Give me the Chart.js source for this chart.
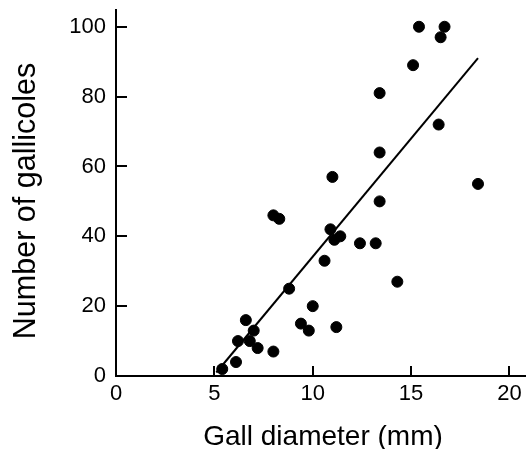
<!DOCTYPE html>
<html>
<head>
<meta charset="utf-8">
<script src="https://cdn.jsdelivr.net/npm/chart.js@4"></script>
<style>
  body { margin: 0; background: #fff; }
  #wrap { width: 526px; height: 449px; }
</style>
</head>
<body>
<div id="wrap"><canvas id="chart"></canvas></div>
<script>
// gall diameter (mm) vs number of gallicoles
const diameter = [5.4, 6.1, 6.2, 6.6, 6.8, 7.0, 7.2, 8.0, 8.0, 8.3, 8.8, 9.4, 9.8, 10.0, 10.6, 10.9,
                  11.0, 11.1, 11.2, 11.4, 12.4, 13.2, 13.4, 13.4, 13.4, 14.3, 15.1, 15.4, 16.4, 16.5, 16.7, 18.4];
const gallicoles = [2, 4, 10, 16, 10, 13, 8, 7, 46, 45, 25, 15, 13, 20, 33, 42,
                    57, 39, 14, 40, 38, 38, 50, 64, 81, 27, 89, 100, 72, 97, 100, 55];

// fitted line end points
const fitX = [5.1, 18.4];
const fitY = [1, 91];

const xTicks = [0, 5, 10, 15, 20];
const yTicks = [0, 20, 40, 60, 80, 100];

const xTitle = 'Gall diameter (mm)';
const yTitle = 'Number of gallicoles';

const points = diameter.map((d, i) => ({ x: d, y: gallicoles[i] }));
const fitLine = fitX.map((d, i) => ({ x: d, y: fitY[i] }));

const font = "'Liberation Sans', Arial, sans-serif";

// ticks pointing into the plot, plus the axis titles
const axisDecor = {
    id: 'axisDecor',
    afterDraw(chart) {
        const ctx = chart.ctx;
        const { x, y } = chart.scales;
        ctx.save();
        ctx.strokeStyle = '#000';
        ctx.lineWidth = 2;
        ctx.beginPath();
        xTicks.forEach(v => {
            const px = Math.round(x.getPixelForValue(v));
            ctx.moveTo(px, y.bottom);
            ctx.lineTo(px, y.bottom - 10);
        });
        yTicks.forEach(v => {
            const py = Math.round(y.getPixelForValue(v));
            ctx.moveTo(x.left, py);
            ctx.lineTo(x.left + 11, py);
        });
        ctx.stroke();

        ctx.fillStyle = '#000';
        ctx.textAlign = 'center';
        ctx.textBaseline = 'alphabetic';
        ctx.font = '28px ' + font;
        ctx.fillText(xTitle, 323, 445);

        ctx.translate(35, 201);
        ctx.rotate(-Math.PI / 2);
        ctx.font = '30.5px ' + font;
        ctx.fillText(yTitle, 0, 0);
        ctx.restore();
    }
};

new Chart(document.getElementById('chart'), {
    type: 'scatter',
    data: {
        datasets: [{
            data: points,
            backgroundColor: '#000',
            borderColor: '#000',
            pointRadius: 5.5,
            pointHoverRadius: 5.5
        }, {
            type: 'line',
            data: fitLine,
            borderColor: '#000',
            borderWidth: 2,
            pointRadius: 0,
            fill: false
        }]
    },
    options: {
        responsive: true,
        maintainAspectRatio: false,
        animation: false,
        layout: { autoPadding: false, padding: { left: 0, right: 0, top: 10, bottom: 0 } },
        plugins: { legend: { display: false }, tooltip: { enabled: false } },
        scales: {
            x: {
                type: 'linear',
                min: 0,
                max: 20.84,
                grid: { display: false, drawTicks: false },
                border: { color: '#000', width: 2 },
                ticks: {
                    stepSize: 5,
                    includeBounds: false,
                    padding: 5,
                    color: '#000',
                    font: { family: font, size: 22 }
                },
                afterFit: s => {
                    s.height = 73;
                    s.paddingLeft = 0;
                    s.paddingRight = 0;
                }
            },
            y: {
                min: 0,
                max: 104.8,
                grid: { display: false, drawTicks: false },
                border: { color: '#000', width: 2 },
                ticks: {
                    stepSize: 20,
                    includeBounds: false,
                    padding: 10,
                    color: '#000',
                    font: { family: font, size: 22 }
                },
                afterFit: s => {
                    s.width = 116;
                    s.paddingTop = 0;
                    s.paddingBottom = 0;
                }
            }
        }
    },
    plugins: [axisDecor]
});
</script>
</body>
</html>
